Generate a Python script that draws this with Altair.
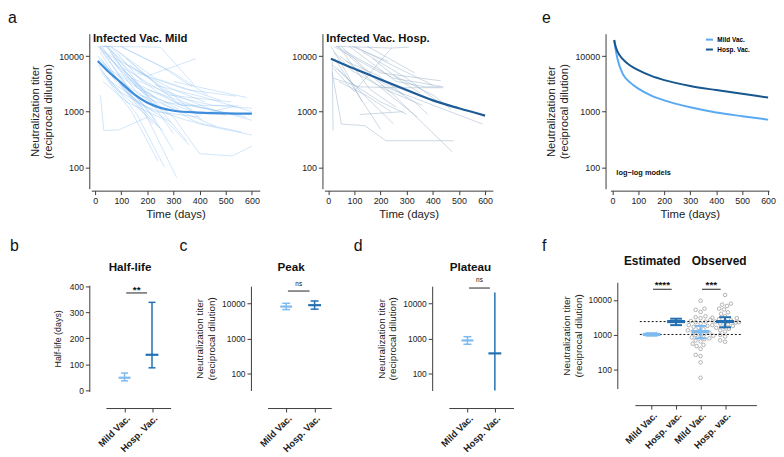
import altair as alt
import numpy as np
import pandas as pd

FONT = "Liberation Sans"
AXC = "#3c3c3c"
MILD_SPAG = "#7fb9f0"
MILD_FIT = "#3d8ddc"
HOSP_SPAG = "#8aa8c2"
HOSP_FIT = "#1d5c97"
LL_MILD = "#5aa9f2"
LL_HOSP = "#17578f"
MILD_C = "#7dbaf0"
HOSP_C = "#2270b2"
DOT_C = "#a0a0a0"

# ---------------- data ----------------
time_ticks = [0, 100, 200, 300, 400, 500, 600]
log_ticks = [100, 1000, 10000]
titer_title = ["Neutralization titer", "(reciprocal dilution)"]

mild_days = [
    [15, 120, 250], [20, 90, 200], [25, 150, 280], [30, 60, 180], [12, 100, 230],
    [40, 140, 300, 420], [18, 110, 220], [22, 130, 260], [30, 250, 380], [30, 200, 385],
    [15, 100, 230, 400], [28, 160, 290], [45, 170, 330, 530], [20, 33, 90, 200],
    [50, 200, 400, 550], [60, 230, 480], [80, 260, 500], [100, 300, 430], [120, 310, 520],
    [25, 140, 240], [35, 180, 312], [40, 160, 265], [150, 300, 400, 525, 600],
    [90, 250, 400, 600], [60, 200, 350, 560], [110, 280, 520], [140, 320, 450, 600],
    [200, 400, 580], [15, 70, 160], [20, 45, 130, 230], [10, 80, 180], [50, 190, 300],
    [70, 210, 350], [30, 120, 270, 360], [130, 290, 410], [160, 350, 540], [170, 330, 460],
    [45, 105, 240, 380], [55, 175, 320], [85, 215, 300], [95, 255, 370], [12, 65, 145, 250],
    [230, 420, 600], [260, 450, 600], [300, 440, 580],
]
mild_titers = [
    [15000, 3000, 1100], [15000, 6000, 1800], [15000, 2500, 900], [15000, 15000, 3500], [15000, 4000, 700],
    [15000, 6000, 2500, 1500], [12000, 2500, 600], [9000, 2000, 450], [15000, 14500, 3000], [12000, 4400, 9000],
    [6000, 2200, 1000, 800], [8000, 1500, 650], [10000, 3000, 1300, 1300], [2000, 460, 470, 800],
    [15000, 2000, 900, 1300], [15000, 4000, 1600], [13000, 2500, 850], [15000, 5000, 2000], [9000, 1500, 900],
    [5000, 1000, 130], [7000, 1200, 65], [4500, 900, 100], [3000, 800, 175, 160, 240],
    [5000, 1500, 600, 380], [3500, 1200, 700, 430], [6000, 2000, 1500], [4000, 1800, 1300, 1150],
    [2500, 1200, 800], [15000, 8000, 2800], [15000, 15000, 4000, 1800], [10000, 3500, 1200], [6000, 2200, 400],
    [9000, 1800, 300], [3500, 1500, 700, 250], [7000, 2200, 700], [5000, 2500, 1900], [2000, 1000, 550],
    [15000, 7000, 2200, 1000], [12000, 2500, 1100], [4500, 900, 200], [15000, 6500, 2800], [7000, 3000, 1400, 500],
    [3000, 1800, 1000], [1500, 1100, 700], [3500, 2500, 1800],
]
hosp_days = [
    [15, 18], [15, 50, 140, 220, 480], [20, 200, 430], [30, 250, 440], [40, 160, 260],
    [30, 240, 310], [20, 99, 242], [15, 100, 200, 300], [120, 285], [60, 250, 474],
    [200, 590], [25, 200], [50, 180, 330, 380], [80, 260, 370, 430], [100, 270, 400],
    [130, 300, 420], [20, 120, 260, 440], [35, 170, 250], [45, 210, 340], [70, 190, 290],
    [150, 330], [20, 90, 220, 360], [110, 240, 380], [170, 280, 350], [10, 60, 130],
    [90, 230], [250, 400, 470], [40, 150, 240],
]
hosp_titers = [
    [8000, 460], [5000, 600, 560, 300, 300], [15000, 5000, 3600], [15000, 4000, 2800], [15000, 2500, 1200],
    [15000, 14000, 14500], [6000, 2300, 14000], [7000, 3000, 1500, 900], [890, 1000], [12000, 2000, 190],
    [3000, 600], [9000, 480], [15000, 4000, 1500, 900], [15000, 3500, 2800, 2800], [15000, 6000, 3000],
    [12000, 4000, 1500], [4000, 2800, 2700, 2700], [6000, 1400, 600], [10000, 2500, 800], [8000, 4500, 2000],
    [15000, 5000], [12000, 5500, 2500, 1300], [6000, 3000, 1700], [9000, 3500, 2200], [15000, 6000, 1500],
    [15000, 8000], [4500, 2000, 1100], [3500, 1900, 1000],
]

mild_fit_day = [10, 50, 100, 150, 200, 250, 300, 400, 500, 600]
mild_fit_titer = [8200, 5300, 3300, 2050, 1450, 1170, 1040, 960, 930, 920]
hosp_fit_day = [10, 100, 200, 300, 400, 500, 600]
hosp_fit_titer = [9000, 5900, 3800, 2450, 1600, 1150, 850]

loglog_day = [7, 10, 20, 40, 70, 100, 150, 200, 300, 400, 500, 600]
loglog_mild = [19500, 15500, 8800, 4800, 3300, 2600, 1950, 1600, 1200, 970, 830, 720]
loglog_hosp = [19500, 16500, 12000, 8800, 6700, 5600, 4400, 3700, 2900, 2450, 2100, 1800]
model_names = ["Mild Vac.", "Hosp. Vac."]

groups = ["Mild Vac.", "Hosp. Vac."]
halflife_median = [49, 137]
halflife_low = [37, 87]
halflife_high = [67, 338]
peak_median = [8300, 9100]
peak_low = [6800, 7000]
peak_high = [10300, 12000]
plateau_median = [900, 385]
plateau_low = [700, 20]
plateau_high = [1150, 21000]

f_groups = ["Mild Vac.", "Hosp. vac.", "Mild Vac.", "Hosp. vac."]
f_median = [1030, 2400, 1250, 2400]
f_low = [950, 1900, 800, 1650]
f_high = [1120, 2900, 1800, 3200]
f_ref_lines = [1030, 2400]
obs_mild = [9400, 5600, 5200, 4500, 3400, 3200, 3000, 2700, 2500, 2400, 2300, 2100, 1900,
            1800, 1700, 1600, 1450, 1350, 1250, 1200, 1150, 1050, 1000, 950, 900, 850, 800,
            760, 700, 650, 560, 520, 480, 400, 270, 250, 165, 60]
obs_hosp = [13800, 7800, 7300, 6700, 5600, 5300, 4400, 4000, 3400, 3100, 3000, 2800, 2600,
            2500, 2400, 2300, 2250, 2100, 2000, 1900, 1800, 1700, 1600, 1500, 1350, 1250,
            1000, 900, 700, 640]

sig_b = ["**", 374]
sig_c = ["ns", 23000]
sig_d = ["ns", 28000]
sig_f = [["****", 20000], ["***", 20000]]

# ---------------- layout helpers ----------------
W, H = 776, 449


def vx(x):
    return round(x * W / 784.0, 2)


def vy(y):
    return round((y - 3.0) * 0.985, 2)


def traj_frame(days, titers):
    rows = []
    for sid, (ds, ts) in enumerate(zip(days, titers)):
        for d, t in zip(ds, ts):
            rows.append({"subject": sid, "day": d, "titer": t})
    return pd.DataFrame(rows)


def text_layer(txt, x, y, size, weight="normal", align="left", baseline="alphabetic"):
    return alt.Chart(pd.DataFrame({"t": [txt]})).mark_text(
        align=align, baseline=baseline, fontSize=size, fontWeight=weight, color="#111111"
    ).encode(text="t:N", x=alt.value(vx(x)), y=alt.value(max(vy(y), 0)))


def x_axis(ref_y, **kw):
    return alt.Axis(orient="bottom", offset=vy(ref_y) - H, grid=False, labelOverlap=False, **kw)


def y_axis(ref_x, **kw):
    return alt.Axis(orient="left", offset=-vx(ref_x), grid=False, labelOverlap=False, **kw)


def top_axes(xl, xr, dom, yaxis_x, y_title):
    xs = alt.Scale(domain=dom, range=[vx(xl), vx(xr)], nice=False, zero=False)
    ys = alt.Scale(type="log", domain=[41.1, 25330], range=[vy(186), vy(27)], nice=False)
    xa = x_axis(188, values=time_ticks, title="Time (days)", labelFontSize=9, titleFontSize=11.5,
                titlePadding=3, labelPadding=2, tickSize=4)
    if y_title is None:
        ya = y_axis(yaxis_x, values=log_ticks, format="d", labelFontSize=9, tickSize=4,
                    labelPadding=2, title=None)
    else:
        ya = y_axis(yaxis_x, values=log_ticks, format="d", labelFontSize=9, tickSize=4,
                    labelPadding=2, title=y_title, titleFontSize=11.4, titlePadding=5)

    def X(f):
        return alt.X(f, scale=xs, axis=xa)

    def Y(f):
        return alt.Y(f, scale=ys, axis=ya)
    return X, Y


def spaghetti_panel(days, titers, fday, ftiter, spag_col, spag_op, fit_col, X, Y):
    df = traj_frame(days, titers)
    fit_df = pd.DataFrame({"day": fday, "titer": ftiter})
    spag = alt.Chart(df).mark_line(color=spag_col, strokeWidth=0.8, opacity=spag_op).encode(
        x=X("day:Q"), y=Y("titer:Q"), detail="subject:N")
    fit = alt.Chart(fit_df).mark_line(color=fit_col, strokeWidth=2.2, interpolate="monotone").encode(
        x=X("day:Q"), y=Y("titer:Q"))
    return alt.layer(spag, fit)


def swarm_positions(values, center, px_per_unit, px_per_decade, diam=4.6, max_off=14):
    order = sorted(range(len(values)), key=lambda i: values[i])
    cands = sorted(range(-max_off, max_off + 1), key=lambda v: (abs(v), v))
    placed = []
    pos = [0.0] * len(values)
    for i in order:
        ypx = np.log10(values[i]) * px_per_decade
        chosen = cands[-1]
        for c in cands:
            if all((c - px) ** 2 + (ypx - py) ** 2 >= diam ** 2 for px, py in placed):
                chosen = c
                break
        placed.append((chosen, ypx))
        pos[i] = center + chosen / px_per_unit
    return pos


def cat_axes(xl, xr, xdom, labels, axis_y, yscale, yaxis):
    expr = "[" + ",".join("'" + l + "'" for l in labels) + "][datum.value - 1]"
    xa = x_axis(axis_y, values=list(range(1, len(labels) + 1)), labelExpr=expr, title=None,
                labelAngle=315, labelAlign="right", labelBaseline="top",
                labelFontWeight="bold", labelFontSize=9.5, labelPadding=1, tickSize=4)
    xs = alt.Scale(domain=xdom, range=[vx(xl), vx(xr)], nice=False, zero=False)

    def X(f):
        return alt.X(f, scale=xs, axis=xa)

    def Y(f):
        return alt.Y(f, scale=yscale, axis=yaxis)
    return X, Y


def summary_layers(df, X, Y, med_thick, cap_thick=1.5, rule_w=1.5):
    col = alt.Color("col:N", scale=None)
    rule = alt.Chart(df).mark_rule(strokeWidth=rule_w).encode(
        x=X("pos:Q"), y=Y("low:Q"), y2="high:Q", color=col)
    capdf = df[df["caps"]]
    lo = alt.Chart(capdf).mark_tick(orient="horizontal", thickness=cap_thick, opacity=1).encode(
        x=X("pos:Q"), y=Y("low:Q"), size=alt.Size("csize:Q", scale=None), color=col)
    hi = alt.Chart(capdf).mark_tick(orient="horizontal", thickness=cap_thick, opacity=1).encode(
        x=X("pos:Q"), y=Y("high:Q"), size=alt.Size("csize:Q", scale=None), color=col)
    med = alt.Chart(df).mark_tick(orient="horizontal", thickness=med_thick, opacity=1).encode(
        x=X("pos:Q"), y=Y("median:Q"), size=alt.Size("msize:Q", scale=None), color=col)
    return [rule, lo, hi, med]


def sig_layers(g1, g2, yv, label, X, Y, fsize, dy, weight):
    d = pd.DataFrame({"x1": [g1 + 0.06], "x2": [g2 - 0.18], "yb": [yv], "lab": [label]})
    d["mid"] = (d["x1"] + d["x2"]) / 2
    bar = alt.Chart(d).mark_rule(color="#222222", strokeWidth=1).encode(
        x=X("x1:Q"), x2="x2:Q", y=Y("yb:Q"))
    txt = alt.Chart(d).mark_text(fontSize=fsize, fontWeight=weight, dy=dy, baseline="alphabetic",
                                 color="#111111").encode(x=X("mid:Q"), y=Y("yb:Q"), text="lab:N")
    return [bar, txt]


def summary_df(med, low, high, msize, csize, caps):
    return pd.DataFrame({"pos": list(range(1, len(med) + 1)), "median": med, "low": low,
                         "high": high, "col": [MILD_C, HOSP_C] * (len(med) // 2),
                         "msize": msize, "csize": csize, "caps": caps})


def log_axis(ref_x, title_size=10):
    return y_axis(ref_x, values=log_ticks, format="d", title=titer_title, labelFontSize=8.5,
                  titleFontSize=title_size, tickSize=4, titlePadding=5, labelPadding=2)


# ---------------- panel a ----------------
Xa1, Ya1 = top_axes(85, 257, [-15, 630], 83, titer_title)
a1 = spaghetti_panel(mild_days, mild_titers, mild_fit_day, mild_fit_titer, MILD_SPAG, 0.45,
                     MILD_FIT, Xa1, Ya1)
Xa2, Ya2 = top_axes(323, 495, [-15, 630], 321, None)
a2 = spaghetti_panel(hosp_days, hosp_titers, hosp_fit_day, hosp_fit_titer, HOSP_SPAG, 0.55,
                     HOSP_FIT, Xa2, Ya2)

# ---------------- panel e ----------------
Xe, Ye = top_axes(615, 777, [-7.5, 604], 610, titer_title)
n_ll = len(loglog_day)
ll_df = pd.DataFrame({"day": loglog_day * 2, "titer": loglog_mild + loglog_hosp,
                      "model": [model_names[0]] * n_ll + [model_names[1]] * n_ll})
e = alt.Chart(ll_df).mark_line(strokeWidth=2, interpolate="monotone").encode(
    x=Xe("day:Q"), y=Ye("titer:Q"),
    color=alt.Color("model:N", scale=alt.Scale(domain=model_names, range=[LL_MILD, LL_HOSP]),
                    legend=alt.Legend(orient="none", legendX=vx(711), legendY=vy(28), title=None,
                                      direction="vertical", symbolType="stroke",
                                      symbolStrokeWidth=2, symbolSize=50, labelFontSize=6.5,
                                      labelFontWeight="bold", rowPadding=1, padding=0,
                                      labelOffset=3)),
)

# ---------------- panel b ----------------
Xb, Yb = cat_axes(100, 166, [0.3214, 2.6786], groups, 411,
                  alt.Scale(domain=[-3.7, 403.7], range=[vy(394), vy(285)], nice=False, zero=False),
                  y_axis(83, values=[0, 100, 200, 300, 400], title="Half-life (days)",
                         labelFontSize=8.5, titleFontSize=9, tickSize=4, titlePadding=7,
                         labelPadding=2))
bdf = summary_df(halflife_median, halflife_low, halflife_high, [12, 13], [7, 7], [True, True])
b = alt.layer(*summary_layers(bdf, Xb, Yb, 2.2),
              *sig_layers(1, 2, sig_b[1], sig_b[0], Xb, Yb, 10, 0, "bold"))

# ---------------- panel c ----------------
Xc, Yc = cat_axes(265, 330, [0.345, 2.586], groups, 411,
                  alt.Scale(type="log", domain=[33.7, 31620], range=[vy(393), vy(286)], nice=False),
                  log_axis(248))
cdf = summary_df(peak_median, peak_low, peak_high, [12, 13], [8, 8], [True, True])
c = alt.layer(*summary_layers(cdf, Xc, Yc, 2.2),
              *sig_layers(1, 2, sig_c[1], sig_c[0], Xc, Yc, 6.5, -5.5, "normal"))

# ---------------- panel d ----------------
Xd, Yd = cat_axes(450, 516, [0.3214, 2.6786], groups, 411,
                  alt.Scale(type="log", domain=[33.7, 31620], range=[vy(393), vy(286)], nice=False,
                            clamp=True),
                  log_axis(433))
ddf = summary_df(plateau_median, plateau_low, plateau_high, [12, 13], [8, 8], [True, False])
d = alt.layer(*summary_layers(ddf, Xd, Yd, 2.2),
              *sig_layers(1, 2, sig_d[1], sig_d[0], Xd, Yd, 6.5, -6, "normal"))

# ---------------- panel f ----------------
Xf, Yf = cat_axes(640, 764, [0.32, 5.28], f_groups, 408,
                  alt.Scale(type="log", domain=[29.6, 31620], range=[vy(391), vy(282)], nice=False),
                  log_axis(622))
dots = pd.DataFrame({
    "pos": swarm_positions(obs_mild, 3, 25, 36) + swarm_positions(obs_hosp, 4, 25, 36),
    "v": obs_mild + obs_hosp,
})
dot_layer = alt.Chart(dots).mark_point(shape="circle", filled=False, color=DOT_C, size=13,
                                       strokeWidth=0.8, opacity=1).encode(x=Xf("pos:Q"), y=Yf("v:Q"))
ref_df = pd.DataFrame({"x1": [0.52] * 2, "x2": [4.72] * 2, "yv": f_ref_lines})
ref_layer = alt.Chart(ref_df).mark_rule(color="#111111", strokeWidth=1, strokeDash=[2, 2]).encode(
    x=Xf("x1:Q"), x2="x2:Q", y=Yf("yv:Q"))
fdf = summary_df(f_median, f_low, f_high, [18, 18, 18, 18], [12, 12, 12, 12], [True] * 4)
f = alt.layer(dot_layer, ref_layer, *summary_layers(fdf, Xf, Yf, 3.2, cap_thick=2, rule_w=2),
              *sig_layers(1, 2, sig_f[0][1], sig_f[0][0], Xf, Yf, 10, -1, "bold"),
              *sig_layers(3, 4, sig_f[1][1], sig_f[1][0], Xf, Yf, 10, -1, "bold"))

# ---------------- free text ----------------
texts = [
    text_layer("a", 0, 0, 16, baseline="top"), text_layer("e", 545, 0, 16, baseline="top"),
    text_layer("b", 2, 250, 16), text_layer("c", 175, 250, 16),
    text_layer("d", 353, 250, 16), text_layer("f", 545, 250, 16),
    text_layer("Infected Vac. Mild", 86.7, 36, 11.4, "bold"),
    text_layer("Infected Vac. Hosp.", 325, 36, 11.4, "bold"),
    text_layer("log\u2212log models", 621, 172, 7.5, "bold"),
    text_layer("Half-life", 124.6, 270, 11.8, "bold", align="center"),
    text_layer("Peak", 289, 270, 11.8, "bold", align="center"),
    text_layer("Plateau", 472, 270, 11.8, "bold", align="center"),
    text_layer("Estimated", 657.7, 264, 12, "bold", align="center"),
    text_layer("Observed", 726, 264, 12, "bold", align="center"),
]

chart = alt.layer(a1, a2, e, b, c, d, f, *texts).resolve_scale(
    x="independent", y="independent", color="independent", size="independent"
).resolve_axis(x="independent", y="independent").resolve_legend(color="independent").properties(
    width=W, height=H, padding=0, autosize=alt.AutoSizeParams(type="none")
).configure(font=FONT).configure_view(stroke=None).configure_axis(
    domainColor=AXC, tickColor=AXC, labelColor="#222222", titleColor="#222222", grid=False,
    labelFont=FONT, titleFont=FONT, titleFontWeight="normal", domainWidth=1, tickWidth=1
).configure_legend(labelFont=FONT)

chart.save("out.html", embed_options={"renderer": "svg", "actions": False})
